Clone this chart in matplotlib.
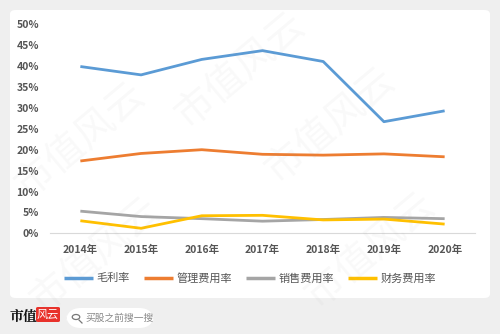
import matplotlib.pyplot as plt
from matplotlib.patches import FancyBboxPatch, Circle
import matplotlib.lines as mlines

plt.rcParams['font.family'] = ['Noto Sans CJK SC', 'DejaVu Sans']

years = ['2014年', '2015年', '2016年', '2017年', '2018年', '2019年', '2020年']
gross_margin = [39.9, 37.9, 41.6, 43.7, 41.1, 26.7, 29.3]
admin_rate = [17.3, 19.1, 20.0, 18.9, 18.7, 19.0, 18.3]
selling_rate = [5.3, 4.0, 3.5, 2.9, 3.3, 3.8, 3.5]
finance_rate = [3.0, 1.2, 4.2, 4.3, 3.2, 3.4, 2.2]

series = [
    ('毛利率', gross_margin, '#5B9BD5'),
    ('管理费用率', admin_rate, '#ED7D31'),
    ('销售费用率', selling_rate, '#A5A5A5'),
    ('财务费用率', finance_rate, '#FFC000'),
]
yticks = [0, 5, 10, 15, 20, 25, 30, 35, 40, 45, 50]

W, H = 500, 334
fig = plt.figure(figsize=(5, 3.34), dpi=100)
fig.patch.set_facecolor('#efefef')

def fx(px):
    return px / W

def fy(py):
    return 1 - py / H

# white card behind the chart
card = FancyBboxPatch((fx(10), fy(298)), fx(480), 288 / H,
                      boxstyle='round,pad=0,rounding_size=0.012',
                      transform=fig.transFigure, facecolor='white',
                      edgecolor='none', zorder=-5)
fig.patches.append(card)

ax = fig.add_axes([fx(50), fy(233.3), fx(425), (233.3 - 24.3) / H])
ax.set_zorder(2)
ax.set_facecolor('none')
x = list(range(len(years)))
for name, vals, col in series:
    ax.plot(x, vals, color=col, lw=2.0, solid_capstyle='butt', label=name, zorder=3)

ax.set_xlim(-0.5, len(years) - 0.5)
ax.set_ylim(0, 50)
ax.set_yticks(yticks)
ax.set_yticklabels([f'{v}%' for v in yticks])
ax.set_xticks(x)
ax.set_xticklabels(years)
ax.tick_params(length=0, labelsize=7.5, colors='#555555')
ax.tick_params(axis='x', pad=8)
ax.tick_params(axis='y', pad=8)
for lab in ax.get_xticklabels() + ax.get_yticklabels():
    lab.set_fontweight('bold')
for s in ['top', 'right', 'left']:
    ax.spines[s].set_visible(False)
ax.spines['bottom'].set_color('#d9d9d9')
ax.spines['bottom'].set_linewidth(0.8)

leg = ax.legend(loc='center', bbox_to_anchor=(fx(250), fy(278)),
                bbox_transform=fig.transFigure, ncol=4, frameon=False,
                fontsize=8, handlelength=2.6, handletextpad=0.3,
                columnspacing=1.3)
for t in leg.get_texts():
    t.set_color('#555555')
for h in leg.get_lines():
    h.set_linewidth(2.5)

# faint diagonal watermarks
for (wx, wy) in [(240, 70), (80, 140), (330, 125), (95, 255), (370, 250)]:
    fig.text(fx(wx), fy(wy), '市值风云', fontsize=28, color='#999999',
             alpha=0.06, rotation=40, ha='center', va='center', zorder=10)

# footer brand and search box
fig.text(fx(10), fy(317), '市值', fontsize=10, fontweight='bold',
         family=['Noto Serif CJK SC', 'Noto Sans CJK SC'], color='#111111',
         va='center', ha='left')
logo = FancyBboxPatch((fx(36), fy(322)), fx(24), 15 / H,
                      boxstyle='round,pad=0,rounding_size=0.004',
                      transform=fig.transFigure, facecolor='#e8322b',
                      edgecolor='none')
fig.patches.append(logo)
fig.text(fx(48), fy(314.5), '风云', fontsize=8, color='white',
         style='italic', ha='center', va='center')
pill = FancyBboxPatch((fx(66), fy(328)), fx(88), 20 / H,
                      boxstyle='round,pad=0,rounding_size=0.03',
                      transform=fig.transFigure, facecolor='white',
                      edgecolor='none', mutation_aspect=W / H)
fig.patches.append(pill)
fig.patches.append(Circle((fx(76), fy(317)), 0.0075, transform=fig.transFigure,
                          fill=False, edgecolor='#777777', lw=0.9))
fig.lines.append(mlines.Line2D([fx(79), fx(82)], [fy(320), fy(323)],
                               transform=fig.transFigure, color='#777777', lw=0.9))
fig.text(fx(85), fy(318), '买股之前搜一搜', fontsize=7, color='#888888',
         ha='left', va='center')

fig.savefig('out.png', dpi=100, facecolor=fig.get_facecolor())
